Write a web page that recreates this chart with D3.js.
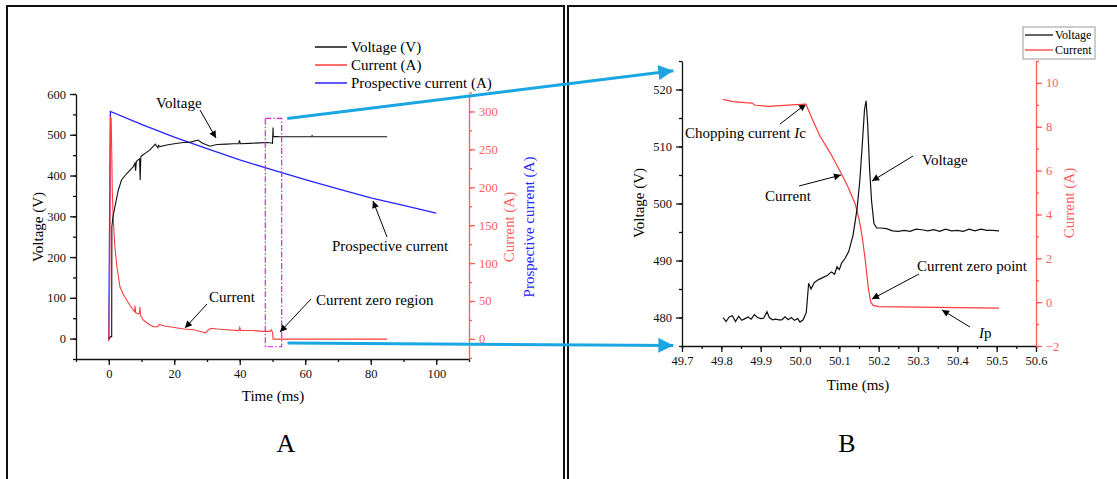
<!DOCTYPE html>
<html>
<head>
<meta charset="utf-8">
<script src="https://cdn.jsdelivr.net/npm/d3@7"></script>
<style>
  body { margin: 0; background: #fff; }
  text { font-family: "Liberation Serif", "Times New Roman", serif; }
</style>
</head>
<body>
<script>
// ---- panel A data (ms, V / A) ----
const voltA_t = [0, 0.6, 0.9, 0.95, 1.3, 1.9, 2.9, 3.9, 5.5, 7.5, 8.0, 8.2, 8.4, 8.6, 9.4, 9.6, 9.8, 10.0, 11.2, 12.6, 14.2, 15.0, 15.2, 15.6, 17.7, 20, 22.8, 25, 27.3, 28.5, 30.9, 33, 36, 38, 39.7, 39.9, 40.2, 43, 46, 48.2, 49.8, 50.0, 50.17, 50.25, 52.3, 56, 61.8, 62.1, 62.4, 70, 78, 85];
const voltA_v = [0, 5, 5, 274, 300, 324, 364, 389, 405, 422, 430, 412, 432, 436, 441, 389, 446, 448, 455, 463, 477, 468, 474, 471, 475, 478, 481, 482, 487, 480, 472, 476, 477, 478, 478, 486, 478, 479, 480, 481, 480, 479, 518, 496, 495, 495, 495, 498, 495, 495, 495, 495];

const currA_t = [0, 0.3, 0.55, 0.75, 0.9, 1.1, 1.4, 1.85, 2.5, 3.4, 4.4, 5.5, 6.5, 7.5, 7.9, 8.0, 8.2, 9.0, 9.4, 9.5, 9.7, 10.5, 12, 13.6, 15, 15.4, 17, 20, 23, 26, 28.5, 29.5, 30.5, 31.2, 33, 36, 39.8, 40.0, 40.3, 44, 47, 49.3, 49.6, 50.0, 50.2, 60, 85];
const currA_v = [-3, 80, 293, 290, 250, 190, 157, 122, 95, 69, 59, 51, 44, 38, 36, 44, 35, 33, 34, 42, 31, 25, 20, 16, 16, 19, 17, 15, 13, 12, 9, 8, 12, 14, 13, 12, 11, 15, 11, 11, 10, 10, 12, 9, -0.3, -0.3, -0.3];

const prospA_t = [0, 0.5, 10, 20, 30, 40, 50, 60, 70, 80, 90, 100];
const prospA_v = [-2, 300, 283, 266, 251, 236, 223, 210, 198, 186, 176, 166];

// ---- panel B data (ms, V / A) ----
const voltB_t = [49.804, 49.812, 49.82, 49.828, 49.836, 49.844, 49.852, 49.86, 49.868, 49.876, 49.884, 49.892, 49.9, 49.908, 49.916, 49.922, 49.93, 49.938, 49.946, 49.954, 49.962, 49.97, 49.978, 49.986, 49.994, 50.0, 50.008, 50.016, 50.022, 50.028, 50.036, 50.046, 50.058, 50.07, 50.08, 50.088, 50.094, 50.1, 50.106, 50.114, 50.124, 50.135, 50.145, 50.152, 50.158, 50.164, 50.168, 50.172, 50.177, 50.182, 50.188, 50.195, 50.205, 50.22, 50.235, 50.25, 50.265, 50.28, 50.295, 50.31, 50.325, 50.34, 50.355, 50.37, 50.385, 50.4, 50.415, 50.43, 50.445, 50.46, 50.475, 50.49, 50.506];
const voltB_v = [480.0, 479.3, 480.1, 480.3, 479.3, 480.2, 479.5, 479.8, 480.1, 479.7, 480.5, 480.0, 479.8, 479.9, 481.0, 480.0, 479.6, 479.7, 479.6, 479.6, 480.1, 479.6, 480.0, 479.5, 479.8, 479.2, 479.6, 480.9, 486.0, 485.0, 486.1, 486.6, 487.0, 487.4, 488.0, 487.6, 488.9, 488.4, 489.6, 490.3, 491.6, 494.5, 499.0, 504.0, 510.0, 516.5, 518.0, 514.0, 506.0, 500.4, 496.5, 495.7, 495.7, 495.6, 495.2, 495.1, 495.3, 495.1, 495.5, 495.4, 495.2, 495.4, 495.1, 495.5, 495.2, 495.3, 495.1, 495.5, 495.2, 495.5, 495.3, 495.3, 495.2];

const currB_t = [49.804, 49.83, 49.86, 49.878, 49.886, 49.9, 49.92, 49.95, 49.98, 50.015, 50.03, 50.05, 50.077, 50.104, 50.122, 50.14, 50.15, 50.158, 50.166, 50.174, 50.18, 50.186, 50.2, 50.3, 50.4, 50.506];
const currB_v = [9.25, 9.15, 9.1, 9.08, 8.98, 8.96, 8.93, 8.96, 9.0, 9.03, 8.4, 7.6, 6.8, 5.9, 5.25, 4.5, 3.8, 3.0, 1.9, 0.6, 0.0, -0.15, -0.2, -0.23, -0.25, -0.27];

// ticks
const xTicksA = [0, 20, 40, 60, 80, 100];
const yTicksA = [0, 100, 200, 300, 400, 500, 600];
const iTicksA = [0, 50, 100, 150, 200, 250, 300];
const xTicksB = [49.7, 49.8, 49.9, 50.0, 50.1, 50.2, 50.3, 50.4, 50.5, 50.6];
const yTicksB = [480, 490, 500, 510, 520];
const iTicksB = [-2, 0, 2, 4, 6, 8, 10];

const RED = "#ff3b3b", RED_AX = "#ff5c5c", BLUE = "#2424ff", CYAN = "#19a6e2", MAG = "#e020e0";

const svg = d3.select("body").append("svg").attr("width", 1117).attr("height", 479);
svg.append("rect").attr("width", 1117).attr("height", 479).attr("fill", "#fff");

// panel frames
svg.append("rect").attr("x", 7).attr("y", 6).attr("width", 557).attr("height", 490)
  .attr("fill", "none").attr("stroke", "#111").attr("stroke-width", 2);
svg.append("rect").attr("x", 568).attr("y", 6).attr("width", 570).attr("height", 490)
  .attr("fill", "none").attr("stroke", "#111").attr("stroke-width", 2);

const defs = svg.append("defs");
defs.append("marker").attr("id", "ah").attr("markerUnits", "userSpaceOnUse")
  .attr("viewBox", "0 0 10 10").attr("refX", 10).attr("refY", 5)
  .attr("markerWidth", 9).attr("markerHeight", 7).attr("orient", "auto")
  .append("path").attr("d", "M0,0L10,5L0,10Z").attr("fill", "#000");
defs.append("marker").attr("id", "ahc").attr("markerUnits", "userSpaceOnUse")
  .attr("viewBox", "0 0 10 10").attr("refX", 10).attr("refY", 5)
  .attr("markerWidth", 17).attr("markerHeight", 15).attr("orient", "auto")
  .append("path").attr("d", "M0,0L10,5L0,10Z").attr("fill", CYAN);

function range(a, b, s) { const r = []; for (let v = a; v <= b + s / 1000; v += s) r.push(+v.toFixed(4)); return r; }

function drawAxis(g, axisFn, scale, major, minor, fmt, color, fontSize) {
  g.call(axisFn(scale).tickValues(minor).tickSize(3).tickFormat("").tickSizeOuter(0));
  const m = g.append("g").call(axisFn(scale).tickValues(major).tickSize(6).tickPadding(4).tickFormat(fmt).tickSizeOuter(0));
  m.select(".domain").remove();
  g.selectAll("path, line").attr("stroke", color).attr("stroke-width", 1.3);
  g.selectAll("text").attr("fill", color).style("font-size", fontSize + "px")
    .style("font-family", "'Liberation Serif', serif");
}

// ================= Panel A =================
const xA = d3.scaleLinear().domain([-10, 110]).range([76, 469]);
const yAV = d3.scaleLinear().domain([-50, 600]).range([359, 94]);
const yAI = d3.scaleLinear().domain([-26.5, 323]).range([359, 94]);

drawAxis(svg.append("g").attr("transform", "translate(0,359)"), d3.axisBottom, xA, xTicksA, range(-10, 110, 10), d3.format("d"), "#111", 12.5);
drawAxis(svg.append("g").attr("transform", "translate(76,0)"), d3.axisLeft, yAV, yTicksA, range(-50, 600, 50), d3.format("d"), "#111", 12.5);
drawAxis(svg.append("g").attr("transform", "translate(469,0)"), d3.axisRight, yAI, iTicksA, range(-25, 325, 25), d3.format("d"), RED_AX, 12.5);

const lineA = (ts, vs, y) => d3.line().x((d, i) => xA(ts[i])).y((d, i) => y(vs[i]))(ts);

svg.append("path").attr("d", lineA(prospA_t, prospA_v, yAI)).attr("fill", "none").attr("stroke", BLUE).attr("stroke-width", 1.3);
svg.append("path").attr("d", lineA(currA_t, currA_v, yAI)).attr("fill", "none").attr("stroke", RED).attr("stroke-width", 1.1);
svg.append("path").attr("d", lineA(voltA_t, voltA_v, yAV)).attr("fill", "none").attr("stroke", "#111").attr("stroke-width", 1.1);

// current zero region box
svg.append("rect").attr("x", xA(47.8)).attr("y", yAV(540)).attr("width", xA(52.8) - xA(47.8)).attr("height", yAV(-20) - yAV(540))
  .attr("fill", "none").attr("stroke", MAG).attr("stroke-width", 1.2).attr("stroke-dasharray", "6,2,1.5,2");

// axis titles A
svg.append("text").attr("transform", "translate(43,227) rotate(-90)").attr("text-anchor", "middle")
  .style("font-size", "15px").text("Voltage (V)");
svg.append("text").attr("x", 273).attr("y", 401).attr("text-anchor", "middle").style("font-size", "15px").text("Time (ms)");
svg.append("text").attr("transform", "translate(514,227) rotate(-90)").attr("text-anchor", "middle")
  .style("font-size", "15px").attr("fill", RED_AX).text("Current (A)");
svg.append("text").attr("transform", "translate(534,227) rotate(-90)").attr("text-anchor", "middle")
  .style("font-size", "15px").attr("fill", BLUE).text("Prospective current (A)");

// legend A
const legA = [["Voltage (V)", "#111"], ["Current (A)", RED], ["Prospective current (A)", BLUE]];
legA.forEach((d, i) => {
  const y = 47 + i * 18;
  svg.append("line").attr("x1", 315).attr("x2", 347).attr("y1", y).attr("y2", y).attr("stroke", d[1]).attr("stroke-width", 1.5);
  svg.append("text").attr("x", 351).attr("y", y + 5).style("font-size", "15px").text(d[0]);
});

// annotations (pixel layout)
const annA = [
  { text: "Voltage", x: 156, y: 108, from: [200, 110], to: [216, 138] },
  { text: "Current", x: 209, y: 302, from: [207, 304], to: [185, 328] },
  { text: "Prospective current", x: 332, y: 251, from: [387, 237], to: [373, 201] },
  { text: "Current zero region", x: 316, y: 305, from: [311, 299], to: [280, 332] }
];
const annB = [
  { text: "Chopping current ", it: "I", sub: "c", x: 685, y: 138, from: [780, 124], to: [806, 104] },
  { text: "Current", x: 765, y: 201, from: [799, 186], to: [841, 175] },
  { text: "Voltage", x: 922, y: 165, from: [913, 156], to: [872, 181] },
  { text: "Current zero point", x: 917, y: 271, from: [919, 274], to: [872, 299] },
  { text: "", it: "I", sub: "p", x: 979, y: 338, from: [970, 327], to: [942, 310] }
];
[...annA, ...annB].forEach(a => {
  const t = svg.append("text").attr("x", a.x).attr("y", a.y).style("font-size", "15px");
  t.append("tspan").text(a.text);
  if (a.it) { t.append("tspan").style("font-style", "italic").text(a.it); t.append("tspan").text(a.sub); }
  svg.append("line").attr("x1", a.from[0]).attr("y1", a.from[1]).attr("x2", a.to[0]).attr("y2", a.to[1])
    .attr("stroke", "#000").attr("stroke-width", 1).attr("marker-end", "url(#ah)");
});

// "A"
svg.append("text").attr("x", 286).attr("y", 452).attr("text-anchor", "middle").style("font-size", "26px").text("A");

// ================= Panel B =================
const xB = d3.scaleLinear().domain([49.7, 50.6]).range([682, 1036]);
const yBV = d3.scaleLinear().domain([475, 525]).range([346, 61]);
const yBI = d3.scaleLinear().domain([-2, 11]).range([346, 61]);

drawAxis(svg.append("g").attr("transform", "translate(0,346)"), d3.axisBottom, xB, xTicksB, range(49.7, 50.6, 0.05), d3.format(".1f"), "#111", 12.5);
drawAxis(svg.append("g").attr("transform", "translate(682,0)"), d3.axisLeft, yBV, yTicksB, range(475, 525, 5), d3.format("d"), "#111", 12.5);
drawAxis(svg.append("g").attr("transform", "translate(1036,0)"), d3.axisRight, yBI, iTicksB, range(-2, 11, 1), d3.format("d"), RED_AX, 12.5);

const lineB = (ts, vs, y) => d3.line().x((d, i) => xB(ts[i])).y((d, i) => y(vs[i]))(ts);
svg.append("path").attr("d", lineB(currB_t, currB_v, yBI)).attr("fill", "none").attr("stroke", RED).attr("stroke-width", 1.2);
svg.append("path").attr("d", lineB(voltB_t, voltB_v, yBV)).attr("fill", "none").attr("stroke", "#111").attr("stroke-width", 1.2);

svg.append("text").attr("transform", "translate(644,203) rotate(-90)").attr("text-anchor", "middle")
  .style("font-size", "15px").text("Voltage (V)");
svg.append("text").attr("x", 858).attr("y", 390).attr("text-anchor", "middle").style("font-size", "15px").text("Time (ms)");
svg.append("text").attr("transform", "translate(1074,203) rotate(-90)").attr("text-anchor", "middle")
  .style("font-size", "15px").attr("fill", RED_AX).text("Current (A)");

// legend B
svg.append("rect").attr("x", 1023).attr("y", 27).attr("width", 72).attr("height", 32)
  .attr("fill", "#fff").attr("stroke", "#999").attr("stroke-width", 1);
[["Voltage", "#111"], ["Current", RED]].forEach((d, i) => {
  const y = 35 + i * 15;
  svg.append("line").attr("x1", 1025).attr("x2", 1053).attr("y1", y).attr("y2", y).attr("stroke", d[1]).attr("stroke-width", 1.3);
  svg.append("text").attr("x", 1055).attr("y", y + 4).style("font-size", "12px").text(d[0]);
});

svg.append("text").attr("x", 847).attr("y", 452).attr("text-anchor", "middle").style("font-size", "26px").text("B");

// zoom connectors
[[[54.5, 540], [49.678, 523.3]], [[54.6, -11], [49.678, 475.1]]].forEach(c => {
  svg.append("line").attr("x1", xA(c[0][0])).attr("y1", yAV(c[0][1])).attr("x2", xB(c[1][0])).attr("y2", yBV(c[1][1]))
    .attr("stroke", CYAN).attr("stroke-width", 3).attr("marker-end", "url(#ahc)");
});
</script>
</body>
</html>
